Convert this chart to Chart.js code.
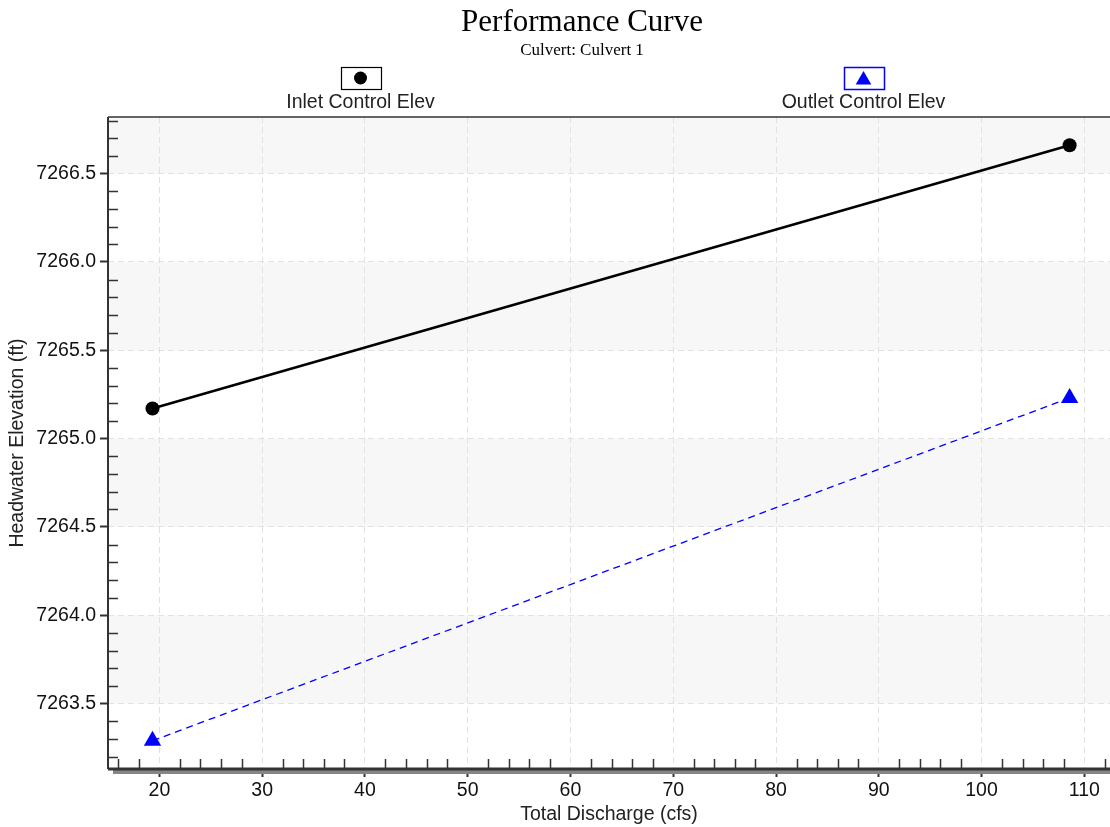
<!doctype html>
<html lang="en">
<head>
<meta charset="UTF-8" />
<title>Performance Curve</title>
<script src="https://cdn.jsdelivr.net/npm/chart.js"></script>
<style>
  html, body { margin: 0; padding: 0; background: #fff; }
  #wrap { width: 1110px; height: 827px; }
</style>
</head>
<body>
<div id="wrap"><canvas id="perfChart" width="1110" height="827"></canvas></div>
<script>
// data
const discharge = [19.33, 108.57]
const inletElev = [7265.17, 7266.66]
const outletElev = [7263.29, 7265.23]

const xTicks = [20, 30, 40, 50, 60, 70, 80, 90, 100, 110]
const yTicks = [7263.5, 7264.0, 7264.5, 7265.0, 7265.5, 7266.0, 7266.5]
const xRange = [15, 112.5]
const yRange = [7263.13, 7266.82]

const titleText = 'Performance Curve'
const subtitleText = 'Culvert: Culvert 1'
const seriesNames = ['Inlet Control Elev', 'Outlet Control Elev']

const sans = "'Liberation Sans', Arial, sans-serif"
const serif = "'Liberation Serif', 'Times New Roman', serif"
const axisDark = '#333'

// background bands, axis lines, minor ticks, title and legend
const decorPlugin = {
	id: 'decor',
	beforeDraw(chart) {
		const { ctx, chartArea: a, scales } = chart
		const y = scales.y
		ctx.save()
		ctx.fillStyle = '#fff'
		ctx.fillRect(0, 0, chart.width, chart.height)
		const edges = [y.max, ...yTicks.slice().reverse(), y.min]
		for (let i = 0; i < edges.length - 1; i++) {
			if (i % 2 !== 0) continue
			const top = y.getPixelForValue(edges[i])
			const bot = y.getPixelForValue(edges[i + 1])
			ctx.fillStyle = '#f7f7f7'
			ctx.fillRect(a.left, top, a.right - a.left, bot - top)
		}
		ctx.restore()
	},
	beforeDatasetsDraw(chart) {
		const { ctx, chartArea: a, scales } = chart
		const x = scales.x
		const y = scales.y
		ctx.save()
		// minor ticks
		ctx.strokeStyle = axisDark
		ctx.lineWidth = 1.5
		ctx.beginPath()
		for (let v = 16; v < x.max; v += 2) {
			if (v % 10 === 0) continue
			const px = Math.round(x.getPixelForValue(v)) + 0.5
			ctx.moveTo(px, a.bottom)
			ctx.lineTo(px, a.bottom - 10)
		}
		for (let k = Math.ceil(y.min * 10); k <= Math.floor(y.max * 10); k++) {
			if (k % 5 === 0) continue
			const py = Math.round(y.getPixelForValue(k / 10)) + 0.5
			ctx.moveTo(a.left, py)
			ctx.lineTo(a.left + 10, py)
		}
		ctx.stroke()
		// shadow under x axis
		ctx.fillStyle = '#868686'
		ctx.fillRect(a.left + 5, a.bottom + 1, a.right - a.left, 4)
		// axis lines
		ctx.strokeStyle = axisDark
		ctx.lineWidth = 3
		ctx.beginPath()
		ctx.moveTo(a.left, a.bottom)
		ctx.lineTo(a.right, a.bottom)
		ctx.stroke()
		ctx.lineWidth = 2
		ctx.beginPath()
		ctx.moveTo(a.left, a.top)
		ctx.lineTo(a.left, a.bottom)
		ctx.stroke()
		ctx.lineWidth = 1.5
		ctx.beginPath()
		ctx.moveTo(a.left, a.top)
		ctx.lineTo(a.right, a.top)
		ctx.stroke()
		ctx.restore()
	},
	afterDraw(chart) {
		const { ctx, chartArea: a } = chart
		ctx.save()
		// title
		ctx.fillStyle = '#000'
		ctx.textAlign = 'center'
		ctx.textBaseline = 'alphabetic'
		ctx.font = '31px ' + serif
		ctx.fillText(titleText, 582, 31)
		ctx.font = '17px ' + serif
		ctx.fillText(subtitleText, 582, 55)

		// legend
		const w = a.right - a.left
		const centers = [a.left + w * 0.252, a.left + w * 0.754]
		centers.forEach((cx, i) => {
			const bx = Math.round(cx - 20) + 0.5
			const by = 67.5
			ctx.fillStyle = '#fff'
			ctx.fillRect(bx, by, 40, 22)
			ctx.lineWidth = i === 0 ? 1.2 : 1.5
			ctx.strokeStyle = i === 0 ? '#000' : '#0000ff'
			ctx.strokeRect(bx, by, 40, 22)
			if (i === 0) {
				ctx.fillStyle = '#000'
				ctx.beginPath()
				ctx.arc(cx, 78, 6.5, 0, Math.PI * 2)
				ctx.fill()
			} else {
				const r = 9
				const cy = 80
				ctx.fillStyle = '#0000ff'
				ctx.beginPath()
				ctx.moveTo(cx, cy - r)
				ctx.lineTo(cx + r * 0.866, cy + r * 0.5)
				ctx.lineTo(cx - r * 0.866, cy + r * 0.5)
				ctx.closePath()
				ctx.fill()
			}
			ctx.fillStyle = '#222'
			ctx.font = '19.5px ' + sans
			ctx.fillText(seriesNames[i], cx, 108)
		})
		ctx.restore()
	}
}

const ctx = document.getElementById('perfChart').getContext('2d')

new Chart(ctx, {
	type: 'scatter',
	data: {
		datasets: [
			{
				label: seriesNames[0],
				data: discharge.map((q, i) => ({ x: q, y: inletElev[i] })),
				showLine: true,
				borderColor: '#000',
				backgroundColor: '#000',
				borderWidth: 2.5,
				pointStyle: 'circle',
				pointRadius: 7,
				pointBorderWidth: 0,
				pointHoverRadius: 7
			},
			{
				label: seriesNames[1],
				data: discharge.map((q, i) => ({ x: q, y: outletElev[i] })),
				showLine: true,
				borderColor: '#0000ff',
				backgroundColor: '#0000ff',
				borderWidth: 1.3,
				borderDash: [7, 5],
				pointStyle: 'triangle',
				pointRadius: 10,
				pointBorderWidth: 0,
				pointHoverRadius: 10
			}
		]
	},
	options: {
		responsive: false,
		animation: false,
		clip: false,
		layout: {
			autoPadding: false,
			padding: { top: 117, left: 0, right: 0, bottom: 0 }
		},
		plugins: {
			legend: { display: false },
			title: { display: false },
			tooltip: { enabled: false }
		},
		scales: {
			x: {
				type: 'linear',
				min: xRange[0],
				max: xRange[1],
				afterBuildTicks: (s) => { s.ticks = xTicks.map((v) => ({ value: v })) },
				afterFit: (s) => {
					s.height = 58
					s.paddingLeft = 0
					s.paddingRight = 0
				},
				grid: {
					color: '#e2e2e2',
					lineWidth: 1,
					tickColor: axisDark,
					tickWidth: 2,
					tickLength: 8
				},
				border: { display: false, dash: [6, 4] },
				ticks: {
					color: '#111',
					font: { family: sans, size: 19.5 },
					padding: 2,
					maxRotation: 0
				},
				title: {
					display: true,
					text: 'Total Discharge (cfs)',
					color: '#222',
					font: { family: sans, size: 19.5 },
					padding: { top: 0, bottom: 1 }
				}
			},
			y: {
				type: 'linear',
				min: yRange[0],
				max: yRange[1],
				afterBuildTicks: (s) => { s.ticks = yTicks.map((v) => ({ value: v })) },
				afterFit: (s) => {
					s.width = 108
					s.paddingTop = 0
					s.paddingBottom = 0
				},
				grid: {
					color: '#e2e2e2',
					lineWidth: 1,
					tickColor: axisDark,
					tickWidth: 2,
					tickLength: 8
				},
				border: { display: false, dash: [6, 4] },
				ticks: {
					color: '#111',
					font: { family: sans, size: 19.5 },
					padding: 4,
					callback: (v) => Number(v).toFixed(1)
				},
				title: {
					display: true,
					text: 'Headwater Elevation (ft)',
					color: '#222',
					font: { family: sans, size: 19.5 },
					padding: { top: 6, bottom: 0 }
				}
			}
		}
	},
	plugins: [decorPlugin]
})
</script>
</body>
</html>
